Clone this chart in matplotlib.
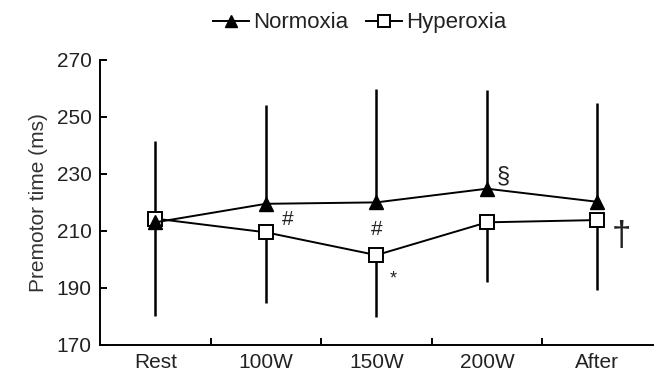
import matplotlib
matplotlib.use('Agg')
from matplotlib import pyplot as plt
import numpy as np

plt.rcParams['font.family'] = ['Liberation Sans', 'DejaVu Sans']

stages = ['Rest', '100W', '150W', '200W', 'After']
normoxia = [213.0, 219.5, 220.0, 224.8, 220.2]
normoxia_sd = [28.5, 34.5, 39.7, 34.7, 34.8]
hyperoxia = [214.3, 209.5, 201.5, 213.0, 213.8]
hyperoxia_sd = [34.3, 24.8, 21.7, 20.8, 24.5]

# significance marks: (stage position, value, symbol, size)
marks = [(1.2, 214.0, '#', 15), (2.0, 210.4, '#', 15), (2.15, 193.0, '*', 13),
         (3.15, 229.0, '§', 17), (4.22, 208.0, '†', 25)]

x = np.arange(len(stages))

fig = plt.figure(figsize=(6.54, 3.79), dpi=100)
ax = fig.add_axes([0.153, 0.09, 0.845, 0.752])

# one-sided SD bars: up for normoxia, down for hyperoxia
ax.errorbar(x, hyperoxia, yerr=[hyperoxia_sd, [0] * 5], fmt='none', ecolor='black',
            elinewidth=1.8, capsize=0, zorder=1)
ax.errorbar(x, normoxia, yerr=[[0] * 5, normoxia_sd], fmt='none', ecolor='black',
            elinewidth=1.8, capsize=0, zorder=1)

ax.plot(x, hyperoxia, color='black', lw=1.4, marker='s', ms=10.5, mfc='white',
        mec='black', mew=1.4, label='Hyperoxia', zorder=2)
ax.plot(x, normoxia, color='black', lw=1.4, marker='^', ms=10, mfc='black',
        mec='black', label='Normoxia', zorder=3)

for xi, yi, s, fs in marks:
    ax.text(xi, yi, s, fontsize=fs, ha='center', va='center', color='#222222')

ax.set_xlim(-0.5, 4.5)
ax.set_ylim(170, 270)
ax.set_yticks([170, 190, 210, 230, 250, 270])
ax.set_xticks(x)
ax.set_xticklabels(stages)
ax.set_xticks(x[:-1] + 0.5, minor=True)
ax.tick_params(axis='x', which='major', length=0, labelsize=15, pad=6, labelcolor='#222222')
ax.tick_params(axis='x', which='minor', direction='in', length=5, width=1.4)
ax.tick_params(axis='y', direction='in', length=5, width=1.4, labelsize=15, pad=6,
               labelcolor='#222222')
ax.set_ylabel('Premotor time (ms)', fontsize=15, color='#333333', labelpad=6)
for side in ['top', 'right']:
    ax.spines[side].set_visible(False)
for side in ['left', 'bottom']:
    ax.spines[side].set_linewidth(1.4)

handles, labels = ax.get_legend_handles_labels()
fig.legend(handles[::-1], labels[::-1], loc='upper center', bbox_to_anchor=(0.55, 1.02),
           ncol=2, frameon=False, fontsize=16, handlelength=1.6, handletextpad=0.2,
           columnspacing=0.8, markerscale=0.8, labelcolor='#222222')

fig.savefig('out.png', dpi=100)
